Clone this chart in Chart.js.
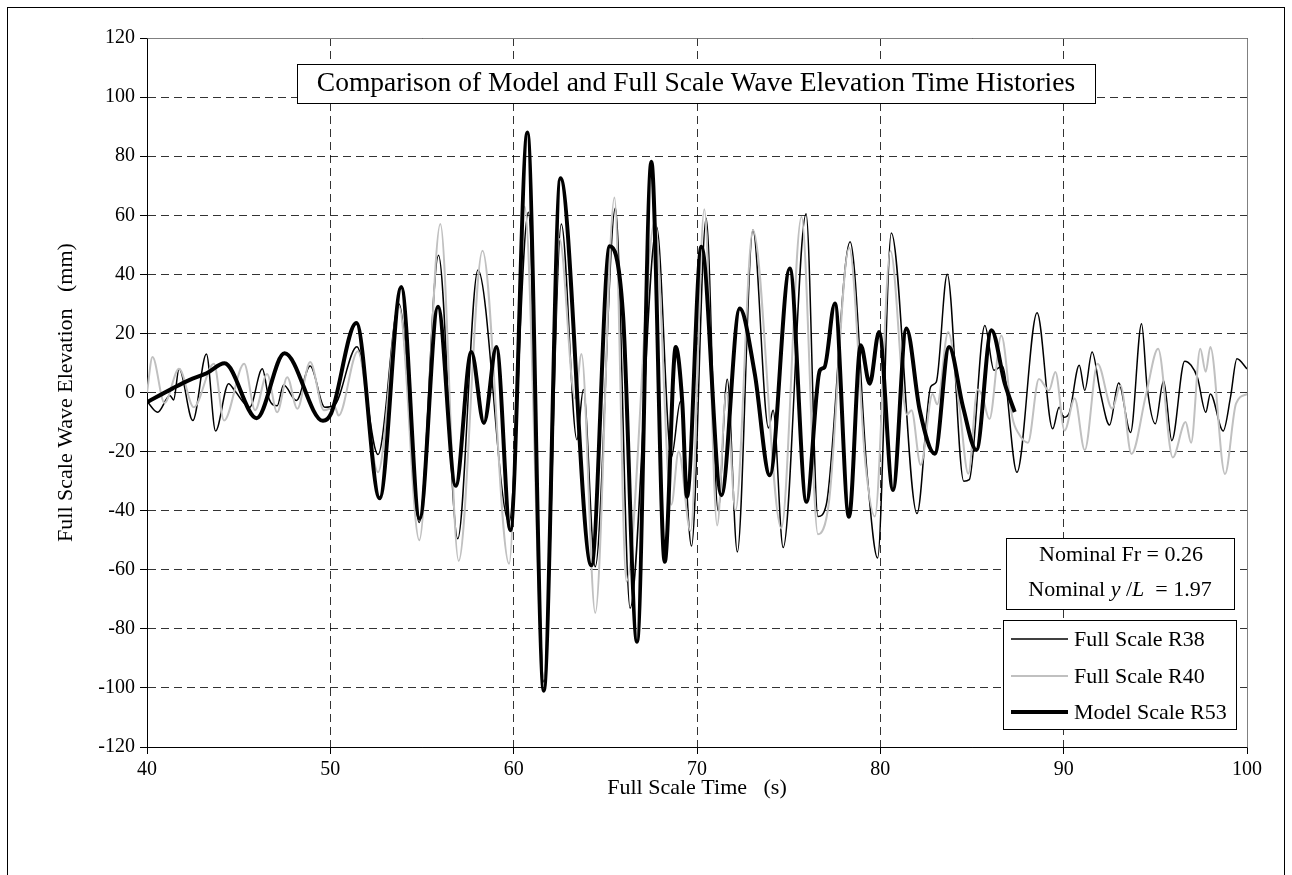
<!DOCTYPE html>
<html><head><meta charset="utf-8">
<script src="https://cdn.jsdelivr.net/npm/chart.js@4.4.1/dist/chart.umd.min.js"></script>
<style>html,body{margin:0;padding:0;background:#fff;}#wrap{width:1292px;height:875px;position:relative;}</style>
</head><body><div id="wrap"><canvas id="c" width="1292" height="875"></canvas></div>
<script>
// ---- data ----
const chartTitle = "Comparison of Model and Full Scale Wave Elevation Time Histories";
const xTitle = "Full Scale Time   (s)";
const yTitle = "Full Scale Wave Elevation   (mm)";
const seriesNames = ["Full Scale R38", "Full Scale R40", "Model Scale R53"];
const xTickValues = [40, 50, 60, 70, 80, 90, 100];
const yTickValues = [-120, -100, -80, -60, -40, -20, 0, 20, 40, 60, 80, 100, 120];

const r38Time = [40.0, 40.58, 41.25, 41.45, 41.75, 42.5, 43.24, 43.74, 44.45, 44.8, 45.6, 46.29, 46.65, 47.1, 47.45, 48.15, 48.9, 49.7, 50.2, 51.45, 52.6, 53.75, 54.85, 55.9, 56.95, 58.05, 59.75, 60.8, 61.65, 62.6, 63.45, 63.8, 64.45, 65.55, 66.35, 67.8, 68.6, 69.1, 69.7, 70.5, 71.15, 71.65, 72.2, 73.05, 73.9, 74.15, 74.7, 75.95, 76.6, 77.05, 78.35, 79.3, 79.85, 80.6, 82.0, 82.75, 83.05, 83.65, 84.55, 84.85, 85.7, 86.2, 86.65, 87.45, 88.55, 89.4, 89.75, 90.0, 90.3, 90.85, 91.15, 91.55, 92.0, 92.5, 93.0, 93.65, 94.25, 94.55, 95.0, 95.45, 95.9, 96.6, 96.95, 97.3, 97.75, 98.0, 98.7, 99.1, 99.45, 100];
const r38Elev = [-3, -6.7, -1, -2.5, 8, -9.5, 13, -13, 3, 0.5, -5, 8, -2, -4.5, 2.5, -2.7, 9, -5, -4.5, 15.5, -21, 30, -44, 46.5, -49.5, 41.5, -44, 61, -98, 57, -16, 1, -59, 62.5, -73, 56, -22, -3, -52, 59, -40, 4.5, -54, 55, -12, -6, -52.5, 60.5, -42, -38, 51, -29, -56, 54, -41, 2, 3.5, 40, -30, -29.5, 22.7, 7.5, 9, -27, 27, -12.3, -5, -8.4, -7, 9.2, 0.7, 13.7, 0, -11, 3.2, -13.5, 23.3, 2, -10.6, 4, -16.3, 10.6, 9.2, 5, -6.7, -0.5, -13, -1.6, 11.4, 8];

const r40Time = [40.0, 40.3, 40.95, 41.75, 42.55, 43.65, 44.2, 45.3, 45.9, 46.55, 47.1, 47.65, 48.2, 48.9, 49.65, 50.25, 50.45, 51.5, 52.6, 53.75, 54.85, 56.0, 57.0, 58.3, 59.75, 60.6, 61.65, 62.5, 63.35, 63.7, 64.45, 65.5, 66.15, 67.7, 68.6, 69.0, 69.65, 70.4, 71.1, 71.6, 72.1, 73.05, 74.6, 75.7, 76.6, 77.2, 78.3, 79.2, 79.7, 80.55, 81.45, 81.7, 82.2, 82.85, 83.1, 83.7, 84.3, 84.8, 85.3, 85.55, 85.95, 86.6, 87.2, 87.55, 88.05, 88.65, 89.2, 89.55, 90.05, 90.6, 91.15, 91.85, 92.65, 93.1, 93.7, 94.5, 95.15, 95.95, 96.65, 96.95, 97.45, 97.75, 98.0, 98.8, 99.4, 100];
const r40Elev = [0, 12, -3.5, 8, -5, 9.7, -9.5, 9.7, -6, 6.3, -6.7, 5.2, -5.5, 10.3, -6, -5, -7.8, 14, -27, 29, -50, 57, -57, 48, -58, 63, -97, 52, -2, 13, -74.6, 66, -64, 58, -38, -20, -47, 62, -45, 0, -40, 55, -46, 59.5, -48, -37, 49, -25, -42, 48, -7.5, -6, -24.5, -0.5, -4, 20.5, -4, -27.5, 1, -1, -9, 19.3, -8.4, -14, -17, 4.6, 0.7, 6.9, -12.9, -2, -19.5, 9.7, -5.5, 2.4, -20.8, -0.5, 14.8, -22, -10, -17, 14.8, 7, 15.4, -27.6, -3.8, -0.5];

const r53Time = [40.0, 41.4, 42.3, 43.25, 44.23, 45.98, 47.5, 49.6, 50.05, 51.42, 52.69, 53.87, 54.87, 55.87, 56.84, 57.69, 58.38, 59.06, 59.82, 60.75, 61.64, 62.55, 64.24, 65.24, 65.96, 66.73, 67.51, 68.24, 68.84, 69.2, 69.45, 70.24, 71.33, 72.33, 73.15, 73.97, 75.06, 75.97, 76.7, 76.95, 77.52, 78.29, 78.93, 79.42, 79.93, 80.69, 81.42, 82.15, 82.97, 83.75, 84.51, 85.24, 86.06, 86.79, 87.33];
const r53Elev = [-3.3, 1.4, 4.2, 6.5, 9.9, -8.7, 13.3, -9.6, -7, 23.5, -35.8, 35.7, -42.7, 29, -31.6, 13.7, -10.3, 15.4, -46.6, 88, -101, 72.5, -58.5, 49.5, 26.8, -84.4, 78.1, -57.3, 15.4, -3.6, -35.3, 49.3, -34.8, 28.4, 6.4, -28, 42, -37, 7.5, 8.5, 30.1, -42.1, 16, 3, 20.5, -33, 21.7, -6, -20.7, 15.4, -4.9, -19.5, 21.1, 3, -6.6];

const infoLine1 = "Nominal Fr = 0.26";
const infoLine2Parts = [["Nominal ", false], ["y", true], [" /", false], ["L", true], ["  = 1.97", false]];

function pts(ts, vs) {
  const n = Math.min(ts.length, vs.length);
  const out = [];
  for (let i = 0; i < n; i++) out.push({x: ts[i], y: vs[i]});
  return out;
}

const FONT = "'Liberation Serif', 'Times New Roman', serif";
const lineStyles = [
  {color: '#000000', width: 1.5},
  {color: '#c0c0c0', width: 2},
  {color: '#000000', width: 4}
];

const decor = {
  id: 'decor',
  beforeDraw(chart) {
    const ctx = chart.ctx;
    ctx.save();
    ctx.fillStyle = '#fff';
    ctx.fillRect(0, 0, chart.width, chart.height);
    ctx.restore();
  },
  afterDatasetsDraw(chart) {
    const ctx = chart.ctx;
    const a = chart.chartArea;
    ctx.save();
    // plot area border (top / right)
    ctx.strokeStyle = '#808080';
    ctx.lineWidth = 1;
    ctx.beginPath();
    ctx.moveTo(Math.round(a.left) + 0.5, Math.round(a.top) + 0.5);
    ctx.lineTo(Math.round(a.right) + 0.5, Math.round(a.top) + 0.5);
    ctx.lineTo(Math.round(a.right) + 0.5, Math.round(a.bottom) + 0.5);
    ctx.stroke();

    function box(x, y, w, h) {
      ctx.fillStyle = '#fff';
      ctx.fillRect(x, y, w, h);
      ctx.strokeStyle = '#000';
      ctx.lineWidth = 1;
      ctx.strokeRect(x + 0.5, y + 0.5, w, h);
      ctx.fillStyle = '#000';
    }
    // title box
    box(297, 64, 798, 39);
    ctx.font = "27.5px " + FONT;
    ctx.textAlign = 'center';
    ctx.textBaseline = 'middle';
    ctx.fillText(chartTitle, 696, 84);

    // info box
    box(1006, 538, 228, 71);
    ctx.font = "22px " + FONT;
    ctx.textAlign = 'center';
    ctx.textBaseline = 'middle';
    ctx.fillText(infoLine1, 1121, 555);
    let total = 0;
    infoLine2Parts.forEach(p => { ctx.font = (p[1] ? "italic " : "") + "22px " + FONT; total += ctx.measureText(p[0]).width; });
    let x = 1120 - total / 2;
    ctx.textAlign = 'left';
    infoLine2Parts.forEach(p => {
      ctx.font = (p[1] ? "italic " : "") + "22px " + FONT;
      ctx.fillText(p[0], x, 590);
      x += ctx.measureText(p[0]).width;
    });

    // legend box
    box(1003, 620, 233, 109);
    const rows = [639, 676, 712];
    ctx.font = "22px " + FONT;
    chart.data.datasets.forEach((ds, i) => {
      ctx.strokeStyle = ds.borderColor;
      ctx.lineWidth = ds.borderWidth;
      ctx.beginPath();
      ctx.moveTo(1011, rows[i]);
      ctx.lineTo(1068, rows[i]);
      ctx.stroke();
      ctx.fillStyle = '#000';
      ctx.textAlign = 'left';
      ctx.textBaseline = 'middle';
      ctx.fillText(ds.label, 1074, rows[i] + 1);
    });
    ctx.restore();
  },
  afterDraw(chart) {
    const ctx = chart.ctx;
    ctx.save();
    ctx.strokeStyle = '#000';
    ctx.lineWidth = 1;
    ctx.strokeRect(7.5, 7.5, 1277, 900);
    ctx.restore();
  }
};

const seriesData = [pts(r38Time, r38Elev), pts(r40Time, r40Elev), pts(r53Time, r53Elev)];
const datasets = seriesData.map((d, i) => ({
  label: seriesNames[i],
  data: d,
  borderColor: lineStyles[i].color,
  borderWidth: lineStyles[i].width,
  pointRadius: 0,
  fill: false,
  cubicInterpolationMode: 'monotone',
  order: 2 - i
}));

new Chart(document.getElementById('c'), {
  type: 'line',
  data: {datasets},
  plugins: [decor],
  options: {
    responsive: false,
    animation: false,
    devicePixelRatio: 1,
    layout: {padding: {top: 38, right: 45, left: 0, bottom: 0}},
    plugins: {legend: {display: false}, tooltip: {enabled: false}, title: {display: false}},
    scales: {
      x: {
        type: 'linear', min: 40, max: 100,
        afterBuildTicks: s => { s.ticks = xTickValues.map(v => ({value: v})); },
        afterFit: s => { s.height = 128; },
        ticks: {font: {family: FONT, size: 20}, color: '#000', padding: 4, maxRotation: 0},
        grid: {color: 'rgba(0,0,0,0.8)', lineWidth: 1, tickLength: 7, tickColor: '#000', tickBorderDash: []},
        border: {display: true, color: '#000', width: 1, dash: [8, 5]},
        title: {display: true, text: xTitle, color: '#000', font: {family: FONT, size: 22}, padding: {top: 0, bottom: 74}}
      },
      y: {
        type: 'linear', min: -120, max: 120,
        afterBuildTicks: s => { s.ticks = yTickValues.map(v => ({value: v})); },
        afterFit: s => { s.width = 147; },
        ticks: {font: {family: FONT, size: 20}, color: '#000', padding: 5},
        grid: {color: 'rgba(0,0,0,0.8)', lineWidth: 1, tickLength: 7, tickColor: '#000', tickBorderDash: []},
        border: {display: true, color: '#000', width: 1, dash: [8, 5]},
        title: {display: true, text: yTitle, color: '#000', font: {family: FONT, size: 22}, padding: {top: 53, bottom: 0}}
      }
    }
  }
});
</script></body></html>
